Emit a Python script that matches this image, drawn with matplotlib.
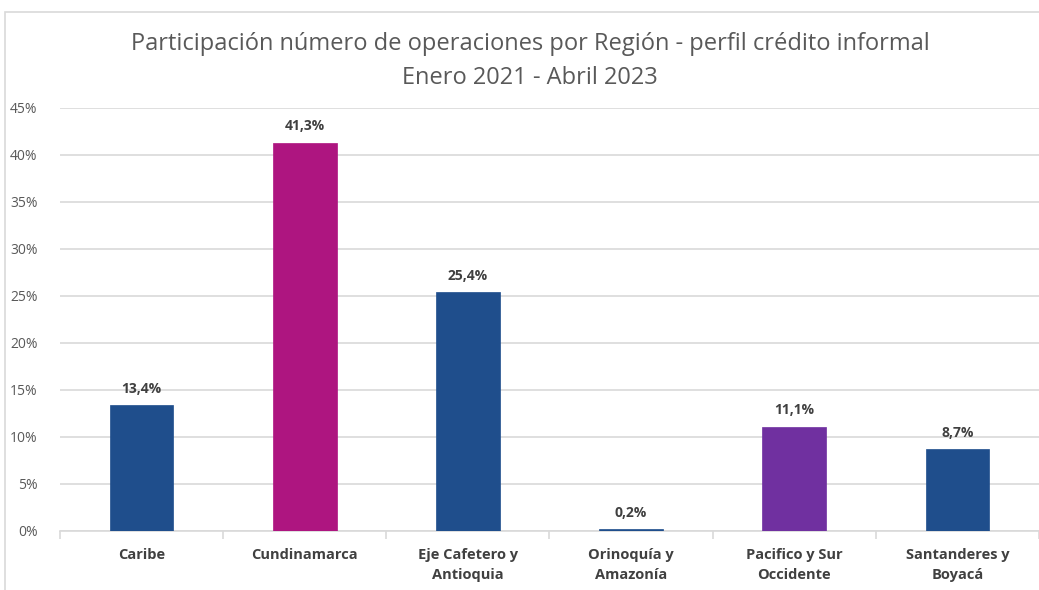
import matplotlib
matplotlib.use("Agg")
import matplotlib.pyplot as plt
from matplotlib.ticker import FuncFormatter, MultipleLocator
from matplotlib.patches import Rectangle

categories = ["Caribe", "Cundinamarca", "Eje Cafetero y\nAntioquia", "Orinoquía y\nAmazonía",
              "Pacifico y Sur\nOccidente", "Santanderes y\nBoyacá"]
values = [13.4, 41.3, 25.4, 0.2, 11.1, 8.7]
labels = ["13,4%", "41,3%", "25,4%", "0,2%", "11,1%", "8,7%"]
colors = ["#1F4E8C", "#AE1580", "#1F4E8C", "#1F4E8C", "#7030A0", "#1F4E8C"]

plt.rcParams['font.family'] = ['Open Sans', 'DejaVu Sans']

fig = plt.figure(figsize=(10.39, 5.90), dpi=100)
fig.patch.set_facecolor("white")
# outer frame
fig.add_artist(Rectangle((0.005, -0.01), 1.2, 0.99, transform=fig.transFigure,
                         fill=False, edgecolor="#d9d9d9", linewidth=1.2))

ax = fig.add_axes([0.0577, 0.1, 0.9423, 0.717])
x = list(range(len(categories)))
ax.bar(x, values, width=0.39, color=colors, zorder=3, edgecolor=colors, linewidth=0.5)
for xi, v, lab in zip(x, values, labels):
    ax.text(xi, v + 1.0, lab, ha="center", va="bottom", fontsize=10, fontweight="bold",
            color="#404040")

ax.set_xlim(-0.5, len(categories) - 0.5)
ax.set_ylim(0, 45)
ax.yaxis.set_major_locator(MultipleLocator(5))
ax.yaxis.set_major_formatter(FuncFormatter(lambda v, p: f"{int(round(v))}%"))
ax.grid(axis="y", color="#d9d9d9", linewidth=1.2, zorder=0)
for s in ["top", "right", "left"]:
    ax.spines[s].set_visible(False)
ax.spines["bottom"].set_color("#d9d9d9")
ax.spines["bottom"].set_linewidth(1.2)
ax.tick_params(axis="y", length=0, labelsize=10, labelcolor="#595959", pad=16)
ax.set_xticks(x)
ax.set_xticklabels(categories, fontsize=10.5, fontweight="bold", color="#404040", linespacing=1.6)
ax.tick_params(axis="x", length=0, pad=12)
ax.set_xticks([i - 0.5 for i in range(len(categories) + 1)], minor=True)
ax.tick_params(axis="x", which="minor", length=6, color="#d9d9d9", width=1.2)

fig.text(0.51, 0.925, "Participación número de operaciones por Región - perfil crédito informal",
         ha="center", va="center", fontsize=17, color="#595959")
fig.text(0.51, 0.868, "Enero 2021 - Abril 2023", ha="center", va="center", fontsize=17,
         color="#595959")

fig.savefig("out.png", dpi=100, facecolor="white")
